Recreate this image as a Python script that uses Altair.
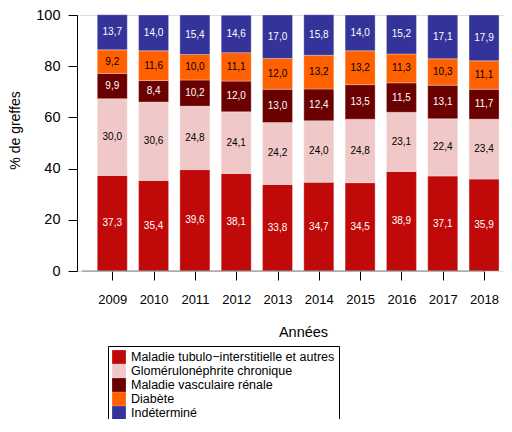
import altair as alt
import pandas as pd

years = [2009, 2010, 2011, 2012, 2013, 2014, 2015, 2016, 2017, 2018]
categories = [
    "Maladie tubulo\u2212interstitielle et autres",
    "Glomérulonéphrite chronique",
    "Maladie vasculaire rénale",
    "Diabète",
    "Indéterminé",
]
colors = ["#C00A0A", "#F0C8C8", "#6A0000", "#FF6000", "#333399"]
text_colors = ["white", "black", "white", "black", "white"]

tubulo = [37.3, 35.4, 39.6, 38.1, 33.8, 34.7, 34.5, 38.9, 37.1, 35.9]
glomerulo = [30.0, 30.6, 24.8, 24.1, 24.2, 24.0, 24.8, 23.1, 22.4, 23.4]
vasculaire = [9.9, 8.4, 10.2, 12.0, 13.0, 12.4, 13.5, 11.5, 13.1, 11.7]
diabete = [9.2, 11.6, 10.0, 11.1, 12.0, 13.2, 13.2, 11.3, 10.3, 11.1]
indetermine = [13.7, 14.0, 15.4, 14.6, 17.0, 15.8, 14.0, 15.2, 17.1, 17.9]
series = [tubulo, glomerulo, vasculaire, diabete, indetermine]

y_ticks = [0, 20, 40, 60, 80, 100]
x_domain = [2008.267, 2018.362]

rows = []
for k, (cat, vals) in enumerate(zip(categories, series)):
    for yr, v in zip(years, vals):
        rows.append({
            "year": yr,
            "cat": cat,
            "order": k,
            "value": v,
            "label": f"{v:.1f}".replace(".", ","),
            "tc": text_colors[k],
        })
df = pd.DataFrame(rows)

FONT = "Liberation Sans"

base = alt.Chart(df).transform_stack(
    stack="value",
    groupby=["year"],
    sort=[alt.SortField("order", order="ascending")],
    as_=["y0", "y1"],
).transform_calculate(mid="(datum.y0 + datum.y1) / 2")

x_enc = alt.X(
    "year:Q",
    scale=alt.Scale(domain=x_domain, nice=False, zero=False),
    axis=alt.Axis(
        values=years, format="d", tickSize=9, tickColor="black", domain=False,
        grid=False, labelFontSize=13, labelPadding=13, labelFlush=False,
        labelOverlap=False, labelColor="black", labelFont=FONT,
        title="Années", titleFontSize=14.5, titleFontWeight="normal",
        titleFont=FONT, titleColor="black", titleX=226, titleY=61,
        titleBaseline="middle", titleAnchor="start", titleAlign="center",
    ),
)

bars = base.mark_bar(size=30, stroke="white", strokeWidth=1, strokeOpacity=0.3).encode(
    x=x_enc,
    y=alt.Y(
        "y0:Q",
        scale=alt.Scale(domain=[0, 100], nice=False),
        axis=alt.Axis(
            values=y_ticks, tickSize=9, tickColor="black", domainColor="black",
            grid=False, labelFontSize=14.5, labelPadding=8, labelAngle=0,
            labelColor="black", labelFont=FONT,
            title="% de greffes", titleFontSize=14, titleFontWeight="normal",
            titleFont=FONT, titleColor="black", titleX=-62, titleY=115,
            titleAngle=270, titleBaseline="middle", titleAlign="center",
            titleAnchor="start",
        ),
    ),
    y2="y1:Q",
    color=alt.Color(
        "cat:N",
        scale=alt.Scale(domain=categories, range=colors),
        legend=alt.Legend(
            orient="none", legendX=31, legendY=331, title=None,
            symbolType="square", symbolSize=190, symbolStrokeWidth=0,
            symbolOpacity=1, labelFontSize=12.5, labelFont=FONT,
            labelColor="black", strokeColor="black", fillColor="white",
            padding=4, rowPadding=0, labelOffset=5, labelLimit=400,
        ),
    ),
)

texts = base.mark_text(fontSize=10, font=FONT, baseline="middle").encode(
    x=alt.X("year:Q"),
    y=alt.Y("mid:Q"),
    text="label:N",
    color=alt.Color("tc:N", scale=None),
)

zero_line = alt.Chart(pd.DataFrame({"a": [0]})).mark_rule(color="#808080", strokeWidth=1).encode(
    x=alt.datum(x_domain[0]), x2=alt.datum(years[-1]), y=alt.datum(0)
)

chart = alt.layer(bars, texts, zero_line).properties(
    width=427, height=256,
    autosize=alt.AutoSizeParams(type="none"),
    padding={"left": 69, "top": 7, "right": 0, "bottom": 148},
).configure_view(stroke=None).configure(font=FONT)

chart.save("out.html", embed_options={"renderer": "svg", "actions": False})
